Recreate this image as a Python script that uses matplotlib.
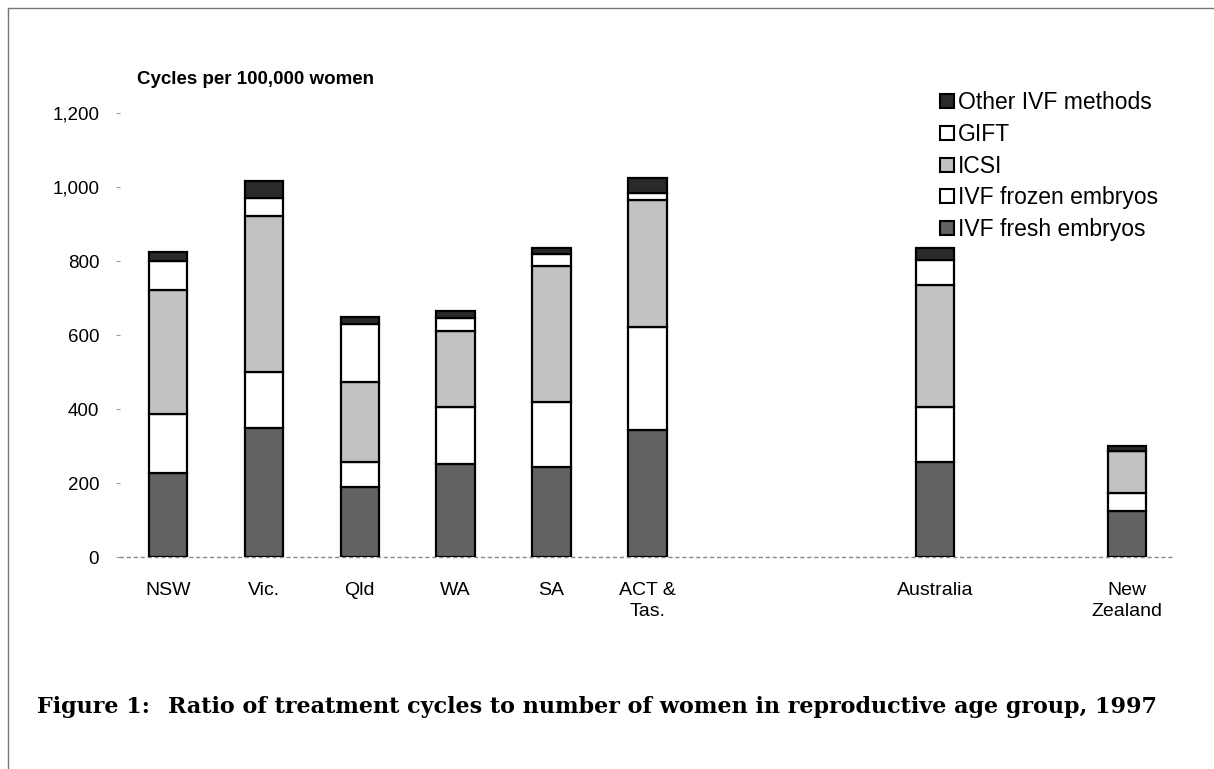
import numpy as np
import matplotlib.pyplot as plt
from matplotlib.lines import Line2D

plt.rcParams['font.family'] = ['Liberation Sans', 'DejaVu Sans']

# Data (cycles per 100,000 women)
regions = ['NSW', 'Vic.', 'Qld', 'WA', 'SA', 'ACT &\nTas.', 'Australia', 'New\nZealand']
positions = [0, 1, 2, 3, 4, 5, 8, 10]

ivf_fresh = [227, 348, 189, 251, 242, 343, 258, 125]
ivf_frozen = [159, 152, 68, 154, 178, 279, 148, 47]
icsi = [336, 422, 216, 207, 367, 343, 328, 114]
gift = [78, 47, 157, 34, 32, 18, 70, 0]
other = [24, 48, 19, 19, 15, 40, 32, 15]

series = [
    ('IVF fresh embryos', ivf_fresh, '#626262'),
    ('IVF frozen embryos', ivf_frozen, 'white'),
    ('ICSI', icsi, '#c2c2c2'),
    ('GIFT', gift, 'white'),
    ('Other IVF methods', other, '#2a2a2a'),
]

fig = plt.figure(figsize=(12.14, 7.69), dpi=100)
ax = fig.add_axes([120 / 1214, 1 - 557 / 769, 1055 / 1214, 444 / 769])

bottom = np.zeros(len(positions))
handles = []
for name, vals, col in series:
    ax.bar(positions, vals, width=0.4, bottom=bottom, color=col,
           edgecolor='black', linewidth=1.6, zorder=3)
    bottom += np.array(vals)
    handles.append(Line2D([], [], marker='s', linestyle='none', markersize=10,
                          markerfacecolor=col, markeredgecolor='black',
                          markeredgewidth=1.5, label=name))

ax.set_xlim(-0.5, 10.5)
ax.set_ylim(0, 1200)
ax.set_yticks([0, 200, 400, 600, 800, 1000, 1200])
ax.set_yticklabels(['0', '200', '400', '600', '800', '1,000', '1,200'])
ax.set_xticks(positions)
ax.set_xticklabels(regions, linespacing=1.3)
ax.tick_params(axis='x', length=0, pad=18, labelsize=14)
ax.tick_params(axis='y', length=3, color='#999999', pad=12, labelsize=13.5)

for s in ['top', 'right', 'left']:
    ax.spines[s].set_visible(False)
ax.spines['bottom'].set_linestyle((0, (2, 3)))
ax.spines['bottom'].set_color('#888888')
ax.spines['bottom'].set_linewidth(1)

leg = fig.legend(handles=handles[::-1], loc='upper left',
                 bbox_to_anchor=(928 / 1214, 1 - 82 / 769), frameon=False,
                 fontsize=16.5, handletextpad=0.0, labelspacing=0.38,
                 handlelength=0.9, borderaxespad=0)

fig.text(137 / 1214, 1 - 80 / 769, 'Cycles per 100,000 women', fontsize=13.5,
         fontweight='bold', va='center', ha='left')

cap_font = dict(fontsize=16, fontweight='bold', family='DejaVu Serif', va='center', ha='left')
fig.text(37 / 1214, 1 - 707 / 769, 'Figure 1:', **cap_font)
fig.text(168 / 1214, 1 - 707 / 769,
         'Ratio of treatment cycles to number of women in reproductive age group, 1997',
         **cap_font)

# page frame lines
fig.add_artist(Line2D([8 / 1214, 8 / 1214], [0, 1 - 8 / 769], color='#777777', linewidth=1))
fig.add_artist(Line2D([8 / 1214, 1], [1 - 8 / 769, 1 - 8 / 769], color='#777777', linewidth=1))

fig.savefig('out.png', dpi=100)
